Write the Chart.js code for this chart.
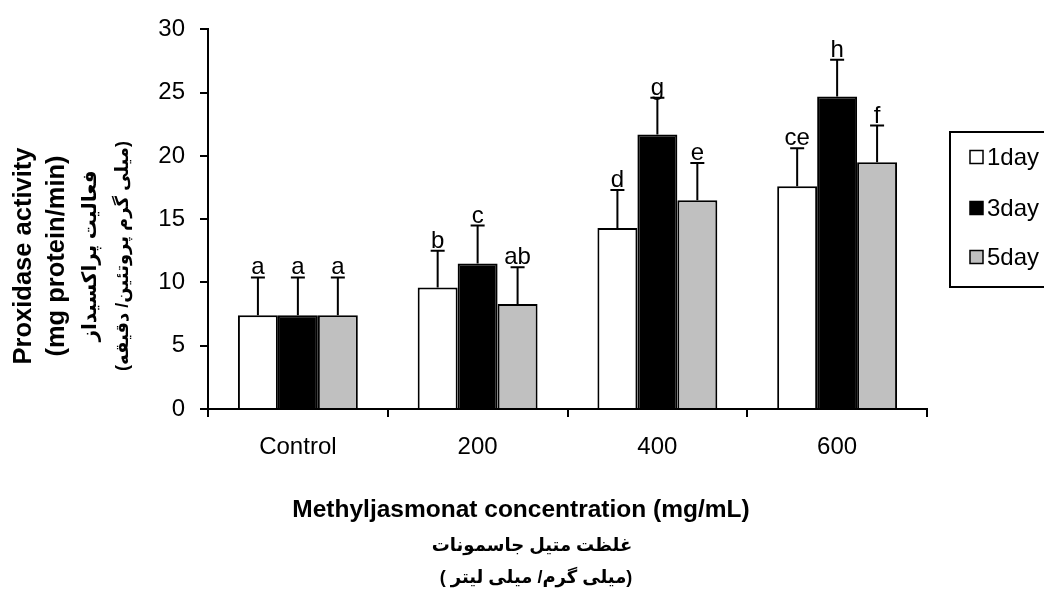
<!DOCTYPE html>
<html>
<head>
<meta charset="utf-8">
<script src="https://cdn.jsdelivr.net/npm/chart.js@4"></script>
<style>
  body { margin: 0; background: #fff; }
</style>
</head>
<body>
<canvas id="myChart" width="1044" height="591"></canvas>
<script>
// values
var categories = ['Control', '200', '400', '600'];
var seriesNames = ['1day', '3day', '5day'];
var day1 = [7.4, 9.6, 14.3, 17.6];
var day3 = [7.4, 11.5, 21.7, 24.7];
var day5 = [7.4, 8.3, 16.5, 19.5];
var err1 = [3.0, 2.9, 3.0, 3.0];
var err3 = [3.0, 3.0, 2.9, 2.9];
var err5 = [3.0, 2.9, 2.95, 2.9];
var letters1 = ['a', 'b', 'd', 'ce'];
var letters3 = ['a', 'c', 'g', 'h'];
var letters5 = ['a', 'ab', 'e', 'f'];
var yTicks = [0, 5, 10, 15, 20, 25, 30];

var yTitle = ['Proxidase activity', '(mg protein/min)', 'فعالیت پراکسیداز', '(میلی گرم پروتئین/ دقیقه)'];
var xTitle = ['Methyljasmonat concentration (mg/mL)', 'غلظت متیل جاسمونات', '( میلی گرم/ میلی لیتر)'];

var FONT = "'Liberation Sans', Arial, 'DejaVu Sans', sans-serif";
Chart.defaults.font.family = FONT;
Chart.defaults.color = '#000';

// error bars + significance letters
var errorBars = {
    id: 'errorBars',
    afterDatasetsDraw: function (chart) {
        var ctx = chart.ctx;
        var y = chart.scales.y;
        ctx.save();
        ctx.strokeStyle = '#000';
        ctx.lineWidth = 2;
        ctx.fillStyle = '#000';
        ctx.font = '24px ' + FONT;
        ctx.textAlign = 'center';
        ctx.textBaseline = 'alphabetic';
        chart.data.datasets.forEach(function (ds, i) {
            var meta = chart.getDatasetMeta(i);
            meta.data.forEach(function (bar, j) {
                var top = y.getPixelForValue(ds.data[j]);
                var cap = y.getPixelForValue(ds.data[j] + ds.errors[j]);
                ctx.beginPath();
                ctx.moveTo(bar.x, top);
                ctx.lineTo(bar.x, cap);
                ctx.moveTo(bar.x - 7, cap);
                ctx.lineTo(bar.x + 7, cap);
                ctx.stroke();
                ctx.fillText(ds.letters[j], bar.x, cap - 3);
            });
        });
        ctx.restore();
    }
};

// axis titles and legend box
var extras = {
    id: 'extras',
    afterDraw: function (chart) {
        var ctx = chart.ctx;
        ctx.save();
        ctx.fillStyle = '#000';
        ctx.textAlign = 'center';
        ctx.textBaseline = 'middle';

        // y title, rotated
        var yx = [24, 57, 90, 123];
        var ys = [25.5, 25.5, 20, 18];
        ctx.save();
        ctx.translate(0, 256);
        ctx.rotate(-Math.PI / 2);
        yTitle.forEach(function (t, i) {
            ctx.font = 'bold ' + ys[i] + 'px ' + FONT;
            ctx.fillText(t, 0, yx[i]);
        });
        ctx.restore();

        // x title
        var xy = [510, 546, 578];
        var xc = [521, 532, 536];
        var xs = [24.5, 18, 18];
        xTitle.forEach(function (t, i) {
            ctx.font = 'bold ' + xs[i] + 'px ' + FONT;
            ctx.fillText(t, xc[i], xy[i]);
        });

        // legend
        ctx.strokeStyle = '#000';
        ctx.lineWidth = 2;
        ctx.strokeRect(950, 132, 120, 155);
        var ly = [157, 208, 257];
        ctx.textAlign = 'left';
        ctx.font = '24px ' + FONT;
        chart.data.datasets.forEach(function (ds, i) {
            ctx.fillStyle = ds.backgroundColor;
            ctx.fillRect(970, ly[i] - 6.5, 13, 13);
            ctx.lineWidth = 1.5;
            ctx.strokeRect(970, ly[i] - 6.5, 13, 13);
            ctx.fillStyle = '#000';
            ctx.fillText(ds.label, 987, ly[i] + 1);
        });
        ctx.restore();
    }
};

var ctx = document.getElementById('myChart').getContext('2d');
var myChart = new Chart(ctx, {
    type: 'bar',
    data: {
        labels: categories,
        datasets: [
            { label: seriesNames[0], data: day1, errors: err1, letters: letters1, backgroundColor: '#ffffff' },
            { label: seriesNames[1], data: day3, errors: err3, letters: letters3, backgroundColor: '#000000' },
            { label: seriesNames[2], data: day5, errors: err5, letters: letters5, backgroundColor: '#c0c0c0' }
        ]
    },
    options: {
        responsive: false,
        animation: false,
        devicePixelRatio: 1,
        layout: { padding: { left: 0, top: 26, right: 117, bottom: 0 } },
        datasets: {
            bar: {
                borderColor: '#000',
                borderWidth: 2,
                categoryPercentage: 0.667,
                barPercentage: 1.0
            }
        },
        plugins: {
            legend: { display: false },
            tooltip: { enabled: false }
        },
        scales: {
            x: {
                afterFit: function (s) { s.height = 182; },
                grid: { drawOnChartArea: false, drawTicks: true, tickLength: 8, color: '#000', lineWidth: 2 },
                border: { color: '#000', width: 2 },
                ticks: { font: { size: 24 }, padding: 16, color: '#000' }
            },
            y: {
                min: 0,
                max: 30,
                afterFit: function (s) { s.width = 208; },
                afterBuildTicks: function (s) { s.ticks = yTicks.map(function (v) { return { value: v }; }); },
                grid: { drawOnChartArea: false, drawTicks: true, tickLength: 8, color: '#000', lineWidth: 2 },
                border: { color: '#000', width: 2 },
                ticks: { font: { size: 24 }, padding: 15, color: '#000' }
            }
        }
    },
    plugins: [errorBars, extras]
});
</script>
</body>
</html>
